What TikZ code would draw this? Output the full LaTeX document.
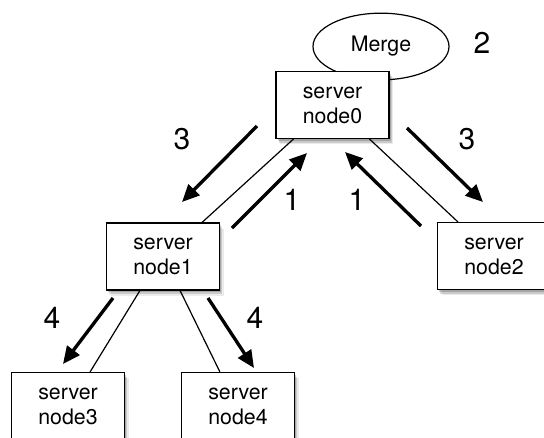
\documentclass[tikz,border=0pt]{standalone}
\usepackage{fontspec}
\setmainfont{TeX Gyre Heros}
\usetikzlibrary{shapes.geometric,arrows.meta,shadows}
\begin{document}
\begin{tikzpicture}[x=0.75pt,y=-0.75pt,
  srv/.style={draw=black,line width=0.9pt,fill=white,minimum width=84.75pt,minimum height=50.25pt,
    inner sep=0pt,align=center,font=\fontsize{16}{18.75}\selectfont,
    drop shadow={shadow xshift=1.2pt,shadow yshift=-1.8pt,opacity=0.18,fill=black},
    drop shadow={shadow xshift=2.2pt,shadow yshift=-3pt,opacity=0.14,fill=black},
    drop shadow={shadow xshift=3.2pt,shadow yshift=-4.2pt,opacity=0.08,fill=black}},
  merge/.style={draw=black,line width=0.9pt,ellipse,minimum width=102pt,minimum height=50pt,inner sep=0pt,
    font=\fontsize{16}{18.75}\selectfont},
  num/.style={font=\fontsize{22.5}{26}\selectfont,inner sep=0pt},
  thin/.style={line width=0.9pt},
  flow/.style={line width=2.5pt,-{Triangle[length=13pt,width=11.5pt]}}]
\useasboundingbox (0,0) rectangle (544,437);
\node[merge] (mg) at (381,46.5) {Merge};
\node[srv] (n0) at (332.5,105) {server\\node0};
\node[srv] (n1) at (163,256.5) {server\\node1};
\node[srv] (n2) at (494,256) {server\\node2};
\node[srv] (n3) at (68,406) {server\\node3};
\node[srv] (n4) at (238,406) {server\\node4};
\node[num] (l2) at (482,43) {2};
\node[num] (l3a) at (182,139) {3};
\node[num] (l1a) at (292,200) {1};
\node[num] (l1b) at (357,200) {1};
\node[num] (l3b) at (467,139) {3};
\node[num] (l4a) at (52,318) {4};
\node[num] (l4b) at (255,318) {4};
\draw[thin] ([xshift=13.5pt]n0.south west) -- ([xshift=-13.5pt]n1.north east);
\draw[thin] ([xshift=-15pt]n0.south east) -- ([xshift=15.75pt]n2.north west);
\draw[thin] ([xshift=25.5pt]n1.south west) -- ([xshift=-26.25pt]n3.north east);
\draw[thin] ([xshift=-30pt]n1.south east) -- ([xshift=29.25pt]n4.north west);
\coordinate (a3s) at (257,126); \coordinate (a3e) at (182,202);
\coordinate (a1s) at (232,228); \coordinate (a1e) at (307,153);
\coordinate (b1s) at (421,226); \coordinate (b1e) at (345,152);
\coordinate (b3s) at (407,128); \coordinate (b3e) at (483,202);
\coordinate (a4s) at (113,298); \coordinate (a4e) at (63,364);
\coordinate (b4s) at (208,298); \coordinate (b4e) at (254,368);
\draw[flow] (a3s) -- (a3e);
\draw[flow] (a1s) -- (a1e);
\draw[flow] (b1s) -- (b1e);
\draw[flow] (b3s) -- (b3e);
\draw[flow] (a4s) -- (a4e);
\draw[flow] (b4s) -- (b4e);
\end{tikzpicture}
\end{document}
